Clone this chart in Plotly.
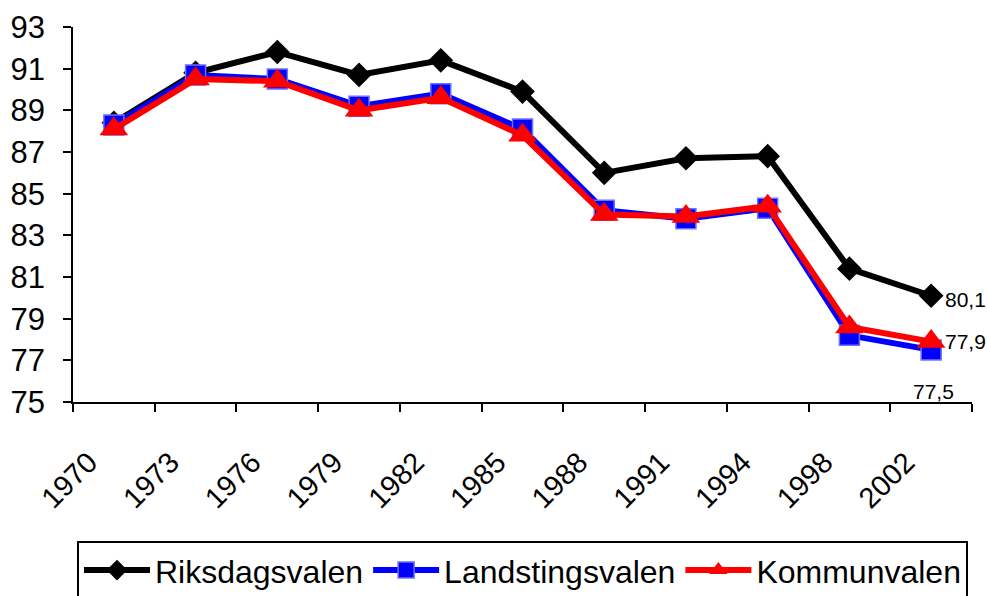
import plotly.graph_objects as go

years = ["1970", "1973", "1976", "1979", "1982", "1985", "1988", "1991", "1994", "1998", "2002"]
riksdag = [88.4, 90.8, 91.8, 90.7, 91.4, 89.9, 86.0, 86.7, 86.8, 81.4, 80.1]
landsting = [88.3, 90.7, 90.5, 89.2, 89.8, 88.1, 84.2, 83.8, 84.3, 78.2, 77.5]
kommun = [88.1, 90.5, 90.4, 89.0, 89.6, 87.8, 84.0, 83.9, 84.4, 78.6, 77.9]
y_ticks = [75, 77, 79, 81, 83, 85, 87, 89, 91, 93]

FONT = "Arial, Liberation Sans, sans-serif"

fig = go.Figure()
fig.add_trace(go.Scatter(
    x=years, y=riksdag, name="Riksdagsvalen", mode="lines+markers",
    line=dict(color="black", width=6),
    marker=dict(symbol="diamond", size=19, color="black"),
))
fig.add_trace(go.Scatter(
    x=years, y=landsting, name="Landstingsvalen", mode="lines+markers",
    line=dict(color="#0000ff", width=6),
    marker=dict(symbol="square", size=20, color="#0000ff", line=dict(color="#7070ff", width=1.5)),
))
fig.add_trace(go.Scatter(
    x=years, y=kommun, name="Kommunvalen", mode="lines+markers",
    line=dict(color="#ff0000", width=6),
    marker=dict(symbol="triangle-up", size=25, color="#ff0000"),
))

def fmt(v):
    return f"{v:.1f}".replace(".", ",")

last = len(years) - 1  # category index of the last year
fig.add_annotation(x=last, y=riksdag[-1], text=fmt(riksdag[-1]), showarrow=False,
                   xanchor="left", yanchor="middle", xshift=12, yshift=-4,
                   font=dict(family=FONT, size=21, color="black"))
fig.add_annotation(x=last, y=kommun[-1], text=fmt(kommun[-1]), showarrow=False,
                   xanchor="left", yanchor="middle", xshift=12, yshift=0,
                   font=dict(family=FONT, size=21, color="black"))
fig.add_annotation(x=last, y=landsting[-1], text=fmt(landsting[-1]), showarrow=False,
                   xanchor="center", yanchor="middle", xshift=2, yshift=-42,
                   font=dict(family=FONT, size=21, color="black"))

fig.update_layout(
    width=987, height=596,
    margin=dict(l=73, r=15, t=27, b=194, autoexpand=False),
    paper_bgcolor="white", plot_bgcolor="white",
    font=dict(family=FONT, size=30, color="black"),
    showlegend=True,
    legend=dict(
        orientation="h", x=0.5, xanchor="center", y=-0.37, yanchor="top",
        bordercolor="black", borderwidth=2,
        font=dict(family=FONT, size=32, color="black"),
        itemwidth=66, traceorder="normal",
    ),
    xaxis=dict(
        type="category", tickson="boundaries", ticks="outside", ticklen=8,
        tickwidth=1.5, tickcolor="black", showline=True, linecolor="black",
        linewidth=1.5, showgrid=False, tickangle=-45, ticklabelstandoff=30,
        ticklabelshift=-25, automargin=False,
        tickfont=dict(family=FONT, size=29, color="black"),
        range=[-0.5, len(years) - 0.5],
    ),
    yaxis=dict(
        range=[75, 93], tickvals=y_ticks, ticks="outside", ticklen=8,
        tickwidth=1.5, tickcolor="black", showline=True, linecolor="black",
        linewidth=1.5, showgrid=False, zeroline=False, automargin=False,
        ticklabelstandoff=12,
        tickfont=dict(family=FONT, size=31, color="black"),
    ),
)

fig.write_html(
    "out.html",
    config={"displayModeBar": False},
    post_script="document.body.style.margin='0';document.body.style.overflow='hidden';",
)
